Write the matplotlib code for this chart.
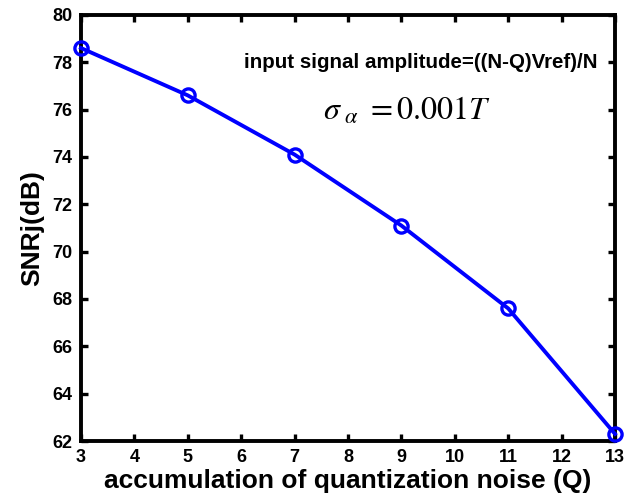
import matplotlib
matplotlib.use("Agg")
import matplotlib.pyplot as plt

q = [3, 5, 7, 9, 11, 13]
snr = [78.6, 76.6, 74.1, 71.1, 67.6, 62.3]
xticks = [3, 4, 5, 6, 7, 8, 9, 10, 11, 12, 13]
yticks = [62, 64, 66, 68, 70, 72, 74, 76, 78, 80]

plt.rcParams['font.family'] = ['Liberation Sans', 'DejaVu Sans']
plt.rcParams['mathtext.fontset'] = 'stix'

fig = plt.figure(figsize=(6.42, 4.95), dpi=100)
ax = fig.add_axes([0.126, 0.109, 0.832, 0.861])
ax.plot(q, snr, color='#0000ff', lw=2.8, marker='o', ms=9.5, mfc='none',
        mec='#0000ff', mew=2.4, clip_on=False, zorder=5)
ax.set_xlim(3, 13)
ax.set_ylim(62, 80)
ax.set_xticks(xticks)
ax.set_yticks(yticks)
ax.tick_params(direction='in', top=True, right=True, length=5, width=2.4,
               labelsize=13, pad=6)
for lbl in ax.get_xticklabels() + ax.get_yticklabels():
    lbl.set_fontweight('bold')
for s in ax.spines.values():
    s.set_linewidth(2.8)
ax.set_xlabel('accumulation of quantization noise (Q)', fontsize=19,
              fontweight='bold', labelpad=2)
ax.set_ylabel('SNRj(dB)', fontsize=19, fontweight='bold', labelpad=6)
ax.text(0.305, 0.888, 'input signal amplitude=((N-Q)Vref)/N', transform=ax.transAxes,
        fontsize=14.8, fontweight='bold', va='center', ha='left')
ax.text(0.453, 0.775, r'$\sigma_{\ \alpha}\ =0.001T$', transform=ax.transAxes,
        fontsize=23, fontweight='normal', va='center', ha='left')
fig.savefig('out.png', dpi=100)
